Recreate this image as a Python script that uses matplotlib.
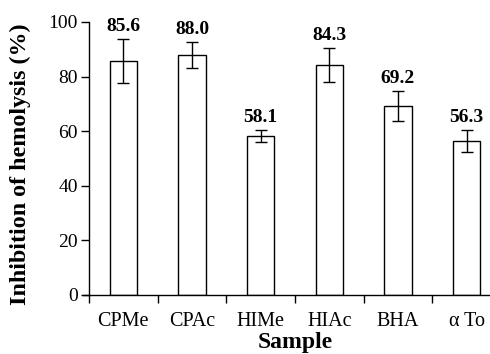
import matplotlib
matplotlib.use("Agg")
import matplotlib.pyplot as plt
import numpy as np

categories = ["CPMe", "CPAc", "HIMe", "HIAc", "BHA", "\u03b1 To"]
values = [85.6, 88.0, 58.1, 84.3, 69.2, 56.3]
errors = [8.0, 4.7, 2.2, 6.2, 5.4, 4.0]
value_labels = ["85.6", "88.0", "58.1", "84.3", "69.2", "56.3"]
yticks = [0, 20, 40, 60, 80, 100]

plt.rcParams['font.family'] = ['Liberation Serif', 'DejaVu Serif']

fig = plt.figure(figsize=(4.9, 3.54), dpi=100)
ax = fig.add_axes([0.1816, 0.1667, 0.8408, 0.7712])

x = np.arange(len(categories))
ax.bar(x, values, width=0.4, color='white', edgecolor='black', linewidth=1.0, zorder=2)
ax.errorbar(x, values, yerr=errors, fmt='none', ecolor='black', elinewidth=1.0,
            capsize=4.5, capthick=1.0, zorder=3)
for xi, v, e, lab in zip(x, values, errors, value_labels):
    ax.text(xi, v + e + 3.0, lab, ha='center', va='baseline', fontsize=14,
            fontweight='bold')

ax.set_xlim(-0.5, len(categories) - 0.5)
ax.set_ylim(0, 100)
ax.set_yticks(yticks)
ax.set_yticklabels([str(t) for t in yticks])
ax.set_xticks(np.arange(len(categories)) - 0.5)
ax.set_xticklabels([])
ax.set_xticks(x, minor=True)
ax.set_xticklabels(categories, minor=True)
ax.tick_params(axis='x', which='minor', length=0, pad=12, labelsize=14.5)
ax.tick_params(axis='x', which='major', direction='out', length=6, width=1.0)
ax.tick_params(axis='y', direction='out', length=6, width=1.0, labelsize=14, pad=2)

for s in ['top', 'right']:
    ax.spines[s].set_visible(False)
ax.spines['left'].set_linewidth(1.0)
ax.spines['bottom'].set_linewidth(1.0)
ax.spines['bottom'].set_bounds(-0.59, len(categories) - 0.5)

ax.set_xlabel("Sample", fontsize=17, fontweight='bold', labelpad=1)
ax.set_ylabel("Inhibition of hemolysis (%)", fontsize=17.3, fontweight='bold')
ax.yaxis.set_label_coords(-0.14, 0.48)

fig.savefig("out.png", dpi=100)
